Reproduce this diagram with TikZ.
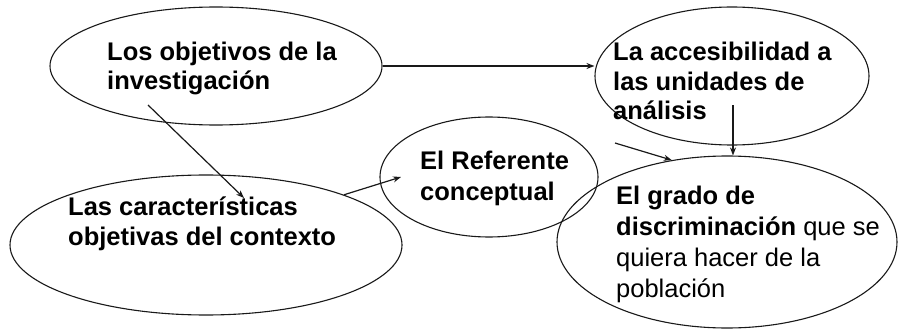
\documentclass[tikz,border=0pt]{standalone}
\usepackage{fontspec}
\setmainfont{Liberation Sans}
\usetikzlibrary{shapes.geometric,arrows.meta}
\begin{document}
\begin{tikzpicture}[x=1pt,y=-1pt,
  oval/.style={draw=black!90,line width=1.1pt,shape=ellipse,inner sep=0pt},
  lbl/.style={anchor=base west,align=left,inner sep=0pt,font=\fontsize{25.5pt}{29.5pt}\selectfont},
  conn/.style={draw=black!90,line width=1.2pt,-{Stealth[length=8pt,width=6pt]}}]
\useasboundingbox (0,0) rectangle (900,329);
\node[oval,minimum width=332pt,minimum height=118pt] (e1) at (216,66) {};
\node[oval,minimum width=274pt,minimum height=138pt] (e2) at (732,76) {};
\node[oval,minimum width=392pt,minimum height=140pt] (e3) at (206,245) {};
\node[oval,minimum width=218pt,minimum height=120pt] (e4) at (489,177) {};
\node[oval,minimum width=340pt,minimum height=172pt] (e5) at (727,242) {};
\node[lbl] (t1) at (107,90) {\bfseries Los objetivos de la\\\bfseries investigación};
\node[lbl] (t2) at (613,120) {\bfseries La accesibilidad a\\\bfseries las unidades de\\\bfseries análisis};
\node[lbl] (t3) at (68,245) {\bfseries Las características\\\bfseries objetivas del contexto};
\node[lbl,font=\fontsize{25.5pt}{31pt}\selectfont] (t4) at (420,200) {\bfseries El Referente\\\bfseries conceptual};
\node[lbl,font=\fontsize{25.5pt}{31pt}\selectfont] (t5) at (616,297) {\textbf{El grado de}\\\textbf{discriminación} que se\\quiera hacer de la\\población};
\coordinate (s2) at (148,105);
\coordinate (d2) at (244,198);
\coordinate (d3) at (401,177);
\coordinate (s4) at (615,143);
\coordinate (s5) at (733,105);
\draw[conn] (e1.east) -- (e1.east -| e2.west);
\draw[conn] (s2) -- (d2);
\draw[conn] (e3.20.8) -- (d3);
\draw[conn] (s4) -- (e5.124);
\draw[conn] (s5) -- (s5 |- e5.north);
\end{tikzpicture}
\end{document}
